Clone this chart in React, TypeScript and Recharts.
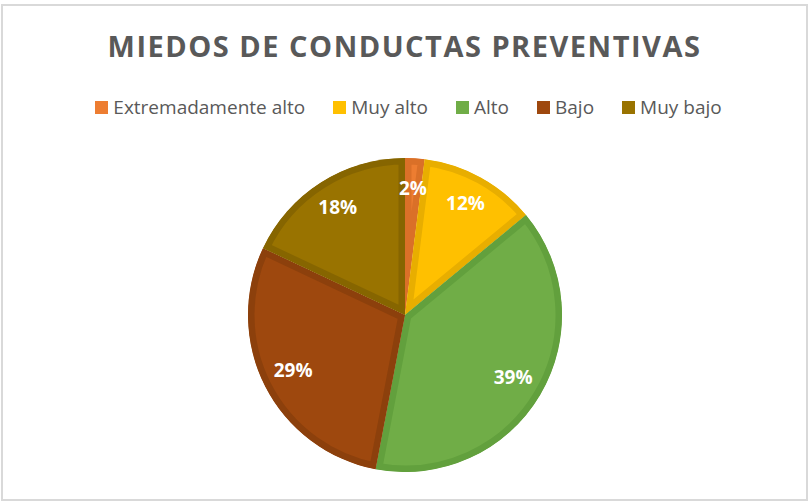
import { PieChart, Pie, Cell, Sector } from "recharts";

const categories = ["Extremadamente alto", "Muy alto", "Alto", "Bajo", "Muy bajo"];
const values = [2, 12, 39, 29, 18];
const fills = ["#ED7D31", "#FFC000", "#70AD47", "#9E480E", "#997300"];
const strokes = ["#DA7028", "#E8AE00", "#62A03D", "#8C400C", "#866500"];

const data = categories.map((name, i) => ({ name, value: values[i] }));

const RADIAN = Math.PI / 180;
const FONT = "'Open Sans', Lato, sans-serif";

// white % label inside each slice
const renderLabel = (props: any) => {
  const { cx, cy, midAngle, outerRadius, value } = props;
  const r = outerRadius * 0.8;
  const x = cx + r * Math.cos(-midAngle * RADIAN);
  const y = cy + r * Math.sin(-midAngle * RADIAN) - 2;
  return (
    <text
      x={x}
      y={y}
      fill="#ffffff"
      textAnchor="middle"
      dominantBaseline="central"
      fontFamily={FONT}
      fontWeight={700}
      fontSize={19}
    >
      {`${value}%`}
    </text>
  );
};

// slice with its border kept inside the slice (clipped to itself)
const SliceShape = (props: any) => {
  const { cx, cy, innerRadius, outerRadius, startAngle, endAngle, fill, stroke } = props;
  const id = `slice-clip-${Math.round(startAngle * 1000)}`;
  return (
    <g>
      <defs>
        <clipPath id={id}>
          <Sector cx={cx} cy={cy} innerRadius={innerRadius} outerRadius={outerRadius} startAngle={startAngle} endAngle={endAngle} />
        </clipPath>
      </defs>
      <Sector
        cx={cx}
        cy={cy}
        innerRadius={innerRadius}
        outerRadius={outerRadius}
        startAngle={startAngle}
        endAngle={endAngle}
        fill={fill}
        stroke={stroke}
        strokeWidth={13}
        clipPath={`url(#${id})`}
      />
    </g>
  );
};

function ChartLegend() {
  return (
    <ul
      style={{
        position: "absolute",
        top: 94,
        left: 4,
        width: 809,
        display: "flex",
        justifyContent: "center",
        gap: 28,
        listStyle: "none",
        margin: 0,
        padding: 0,
        fontFamily: FONT,
        fontSize: 19,
        lineHeight: "26px",
        color: "#595959",
      }}
    >
      {categories.map((name, index) => (
        <li key={`item-${index}`} style={{ display: "flex", alignItems: "center", gap: 5 }}>
          <span style={{ width: 13, height: 13, backgroundColor: fills[index], display: "inline-block" }} />
          {name}
        </li>
      ))}
    </ul>
  );
}

export default function App() {
  return (
    <div style={{ position: "absolute", left: 0, top: 0, width: 809, height: 502, background: "#fff" }}>
      <div
        style={{
          position: "absolute",
          left: 1,
          top: 4,
          width: 803,
          height: 493,
          border: "2px solid #D9D9D9",
        }}
      />
      <div
        style={{
          position: "absolute",
          left: 0,
          top: 27,
          width: 809,
          textAlign: "center",
          fontFamily: FONT,
          fontWeight: 700,
          fontSize: 29,
          letterSpacing: 1.5,
          lineHeight: "38px",
          color: "#595959",
        }}
      >
        MIEDOS DE CONDUCTAS PREVENTIVAS
      </div>
      <ChartLegend />
      <div style={{ position: "absolute", left: 0, top: 0 }}>
        <PieChart width={809} height={502} margin={{ top: 0, right: 0, bottom: 0, left: 0 }}>
          <Pie
            data={data}
            dataKey="value"
            nameKey="name"
            cx={405}
            cy={315}
            outerRadius={157}
            startAngle={90}
            endAngle={-270}
            strokeWidth={6}
            shape={SliceShape}
            label={renderLabel}
            labelLine={false}
            isAnimationActive={false}
          >
            {data.map((entry, index) => (
              <Cell key={`cell-${index}`} fill={fills[index]} stroke={strokes[index]} />
            ))}
          </Pie>
        </PieChart>
      </div>
    </div>
  );
}
